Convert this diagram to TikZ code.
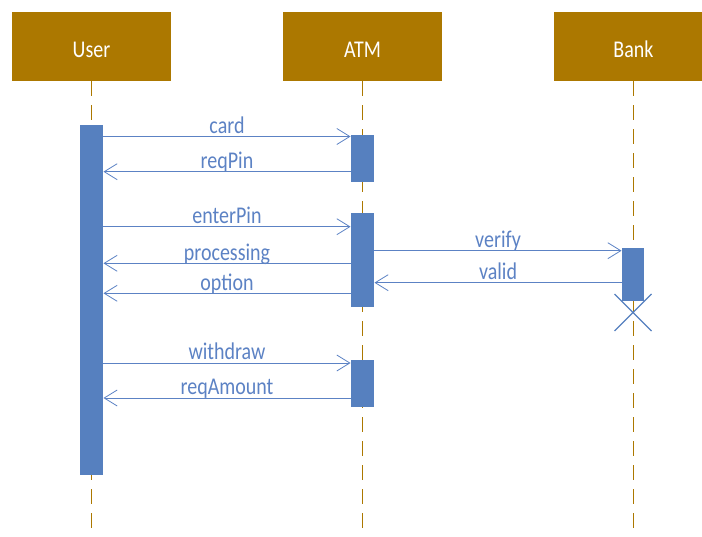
\documentclass[tikz,border=0pt]{standalone}
\usepackage{fontspec}
\setmainfont{Carlito}
\usepackage{xcolor}
\usepackage{tikz}
\usetikzlibrary{arrows.meta}

\definecolor{headbrown}{RGB}{172,120,0}
\definecolor{barblue}{RGB}{86,128,191}
\definecolor{msgblue}{RGB}{92,130,196}
\newcommand{\tallText}[1]{\scalebox{1}[1.2]{#1}}
\newcommand{\headText}[1]{\raisebox{-11.5pt}[0pt][0pt]{\tallText{#1}}}

\begin{document}
\begin{tikzpicture}[
    x=1pt, y=-1pt,
    head/.style={fill=headbrown, text=white, minimum width=159pt, minimum height=69pt, inner sep=0pt,
        font=\fontsize{20}{22}\selectfont},
    life/.style={draw=headbrown, line width=0.9pt, dash pattern=on 15pt off 9pt},
    bar/.style={fill=barblue, minimum width=23.5pt, inner sep=0pt},
    msg/.style={draw=msgblue, line width=0.8pt, -{Straight Barb[length=13pt,width=16pt]}},
    lbl/.style={text=msgblue, anchor=base, inner sep=0pt, yshift=3pt,
        font=\fontsize{20}{22}\selectfont},
]
\useasboundingbox (0,0) rectangle (702,537);
\clip (0,0) rectangle (702,537);

% Objetos
\node[head] (user) at (91.5,46.5) {\headText{User}};
\node[head] (atm) at (362.5,46.5) {\headText{ATM}};
\node[head] (bank) at (633.5,46.5) {\headText{Bank}};

% Linhas de vida
\draw[life] (user.south) -- (user.south |- 0,537);
\draw[life] (atm.south) -- (atm.south |- 0,537);
\draw[life] (bank.south) -- (bank.south |- 0,537);

% Ativações
\node[bar, minimum height=350pt] (ub) at (91.5,300) {};
\node[bar, minimum height=47pt] (a1) at (362.5,158.5) {};
\node[bar, minimum height=93.5pt] (a2) at (362.5,259.8) {};
\node[bar, minimum height=47pt] (a3) at (362.5,384) {};
\node[bar, minimum width=22.5pt, minimum height=53pt] (bb) at (633,274.2) {};

% Mensagens
\draw[msg] (ub.east |- 0,136.5) -- (a1.west |- 0,136.5) node[midway, lbl] {\tallText{card}};
\draw[msg] (a1.west |- 0,171.7) -- (ub.east |- 0,171.7) node[midway, lbl] {\tallText{reqPin}};
\draw[msg] (ub.east |- 0,226.7) -- (a2.west |- 0,226.7) node[midway, lbl] {\tallText{enterPin}};
\draw[msg] (a2.west |- 0,263.3) -- (ub.east |- 0,263.3) node[midway, lbl] {\tallText{processing}};
\draw[msg] (a2.west |- 0,293.3) -- (ub.east |- 0,293.3) node[midway, lbl] {\tallText{option}};
\draw[msg] (a2.east |- 0,250.7) -- (bb.west |- 0,250.7) node[midway, lbl] {\tallText{verify}};
\draw[msg] (bb.west |- 0,282.7) -- (a2.east |- 0,282.7) node[midway, lbl] {\tallText{valid}};
\draw[msg] (ub.east |- 0,363) -- (a3.west |- 0,363) node[midway, lbl] {\tallText{withdraw}};
\draw[msg] (a3.west |- 0,398) -- (ub.east |- 0,398) node[midway, lbl] {\tallText{reqAmount}};

% Destruição
\coordinate (xc) at (bb.south |- 0,312.5);
\draw[barblue, line width=1.3pt] ([shift={(-18.5pt,18.5pt)}]xc) -- ([shift={(18.5pt,-18.5pt)}]xc)
    ([shift={(-18.5pt,-18.5pt)}]xc) -- ([shift={(18.5pt,18.5pt)}]xc);

\end{tikzpicture}
\end{document}
